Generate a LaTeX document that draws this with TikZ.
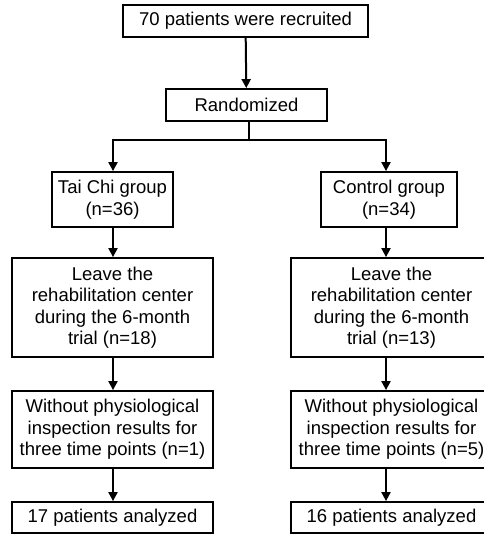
\documentclass[tikz,border=0pt]{standalone}
\usepackage{fontspec}
\setmainfont{Liberation Sans}
\usetikzlibrary{arrows.meta}
\tikzset{
  box/.style={draw, line width=1.8pt, inner sep=0pt, align=center,
    font=\fontsize{18.5}{21.5}\selectfont},
  flow/.style={line width=2pt, -{Triangle[length=9pt,width=9pt]}},
  link/.style={line width=2pt}
}
\begin{document}
\begin{tikzpicture}[x=1pt,y=-1pt]
\useasboundingbox (0,0) rectangle (484,535);
\coordinate (lcol) at (113,0);
\coordinate (rcol) at (386,0);
\coordinate (split) at (249,140);
% top of the chart
\node[box, minimum width=245pt, minimum height=32pt] (recruit) at (245.5,21) {70 patients were recruited};
\node[box, minimum width=161pt, minimum height=32pt] (rand) at (246.5,105) {Randomized};
% two groups
\node[box, minimum width=121pt, minimum height=55pt] (taichi) at (112.5,199.5) {Tai Chi group\\(n=36)};
\node[box, minimum width=136pt, minimum height=55pt] (control) at (389,199.5) {Control group\\(n=34)};
\node[box, minimum width=201pt, minimum height=99pt] (leaveL) at (112.5,307.5) {Leave the\\rehabilitation center\\during the 6-month\\trial (n=18)};
\node[box, minimum width=201pt, minimum height=99pt] (leaveR) at (391.5,307.5) {Leave the\\rehabilitation center\\during the 6-month\\trial (n=13)};
\node[box, minimum width=201pt, minimum height=77pt] (withL) at (112.5,429.5) {Without physiological\\inspection results for\\three time points (n=1)};
\node[box, minimum width=201pt, minimum height=77pt] (withR) at (391.5,429.5) {Without physiological\\inspection results for\\three time points (n=5)};
\node[box, minimum width=201pt, minimum height=31pt] (anaL) at (112.5,517.5) {17 patients analyzed};
\node[box, minimum width=201pt, minimum height=31pt] (anaR) at (391.5,517.5) {16 patients analyzed};
% connectors
\draw[flow] (recruit) -- (rand);
\draw[link] (rand.south -| split) -- (split);
\draw[flow] (split) -| (taichi.north -| lcol);
\draw[flow] (split) -| (control.north -| rcol);
\draw[flow] (taichi.south -| lcol) -- (leaveL.north -| lcol);
\draw[flow] (leaveL.south -| lcol) -- (withL.north -| lcol);
\draw[flow] (withL.south -| lcol) -- (anaL.north -| lcol);
\draw[flow] (control.south -| rcol) -- (leaveR.north -| rcol);
\draw[flow] (leaveR.south -| rcol) -- (withR.north -| rcol);
\draw[flow] (withR.south -| rcol) -- (anaR.north -| rcol);
\end{tikzpicture}
\end{document}
